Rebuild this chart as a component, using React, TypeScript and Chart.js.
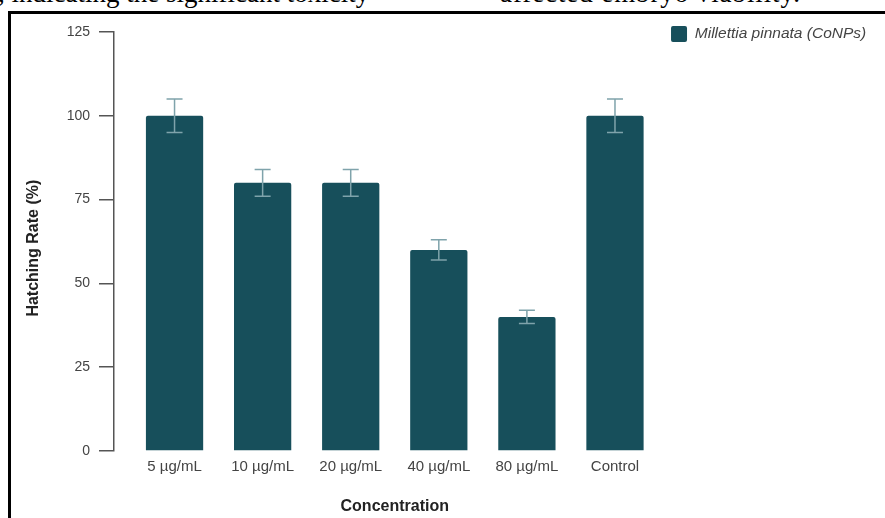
import { useEffect, useRef } from 'react';
import { Chart, registerables } from 'chart.js';

Chart.register(...registerables);

// Hatching rate per treatment, with the spread drawn as error bars
const categories = ['5 µg/mL', '10 µg/mL', '20 µg/mL', '40 µg/mL', '80 µg/mL', 'Control'];
const hatchingRate = [100, 80, 80, 60, 40, 100];
const hatchingError = [5, 4, 4, 3, 2, 5];
const yTicks = [0, 25, 50, 75, 100, 125];
const seriesLabel = 'Millettia pinnata (CoNPs)';

const BAR_COLOR = '#174f5b';
const ERROR_COLOR = '#7fa3ab';
const AXIS_COLOR = '#555555';
const TICK_COLOR = '#444444';
const TITLE_COLOR = '#222222';
const FONT = "'Liberation Sans', Arial, Helvetica, sans-serif";

// Draws mean ± error whiskers on top of each bar
const errorBars = {
  id: 'errorBars',
  afterDatasetsDraw(chart: any) {
    const { ctx } = chart;
    const yScale = chart.scales.y;
    const meta = chart.getDatasetMeta(0);
    const cap = 8;
    ctx.save();
    ctx.strokeStyle = ERROR_COLOR;
    ctx.lineWidth = 1.5;
    meta.data.forEach((bar: any, i: number) => {
      const v = hatchingRate[i];
      const e = hatchingError[i];
      const top = yScale.getPixelForValue(v + e);
      const bottom = yScale.getPixelForValue(v - e);
      ctx.beginPath();
      ctx.moveTo(bar.x, top);
      ctx.lineTo(bar.x, bottom);
      ctx.moveTo(bar.x - cap, top);
      ctx.lineTo(bar.x + cap, top);
      ctx.moveTo(bar.x - cap, bottom);
      ctx.lineTo(bar.x + cap, bottom);
      ctx.stroke();
    });
    ctx.restore();
  },
};

function HatchingChart() {
  const canvasRef = useRef<HTMLCanvasElement | null>(null);

  useEffect(() => {
    if (!canvasRef.current) return;
    Chart.defaults.font.family = FONT;
    const chart = new Chart(canvasRef.current, {
      type: 'bar',
      data: {
        labels: categories,
        datasets: [
          {
            label: seriesLabel,
            data: hatchingRate,
            backgroundColor: BAR_COLOR,
            borderColor: BAR_COLOR,
            borderWidth: 0,
            borderRadius: 2,
            barPercentage: 0.65,
            categoryPercentage: 1,
            xAxisID: 'x',
            yAxisID: 'y',
          },
        ],
      },
      options: {
        responsive: false,
        animation: false,
        layout: { padding: { left: 0, right: 8.8, top: 0, bottom: 0 } },
        plugins: {
          tooltip: { enabled: false },
          legend: {
            position: 'right',
            align: 'start',
            maxWidth: 240,
            labels: {
              boxWidth: 16,
              boxHeight: 16,
              padding: 12,
              color: TICK_COLOR,
              useBorderRadius: true,
              borderRadius: 2,
              font: { size: 15.5, style: 'italic' },
            },
          },
        },
        scales: {
          x: {
            type: 'category',
            offset: true,
            grid: { display: false, drawTicks: false },
            border: { display: false },
            ticks: {
              color: TICK_COLOR,
              font: { size: 15 },
              padding: 7,
              maxRotation: 0,
              autoSkip: false,
            },
            title: {
              display: true,
              text: 'Concentration',
              color: TITLE_COLOR,
              font: { size: 16, weight: 'bold' },
              padding: { top: 0, bottom: 1.4 },
            },
            afterFit(s: any) {
              s.height = 67;
            },
          },
          y: {
            position: 'left',
            weight: 1,
            min: 0,
            max: 125,
            afterBuildTicks(s: any) {
              s.ticks = yTicks.map((value) => ({ value }));
            },
            grid: {
              display: true,
              drawOnChartArea: false,
              drawTicks: true,
              tickLength: 15,
              color: AXIS_COLOR,
              lineWidth: 1.5,
            },
            border: { display: true, color: AXIS_COLOR, width: 1.5 },
            ticks: { color: TICK_COLOR, font: { size: 14 }, padding: 9 },
            title: {
              display: true,
              text: 'Hatching Rate (%)   ',
              color: TITLE_COLOR,
              font: { size: 16, weight: 'bold' },
              padding: { top: 13.4, bottom: 0 },
            },
            afterFit(s: any) {
              s.width = 103;
            },
          },
          // blank spacer between the value axis and the first bar
          gap: {
            type: 'linear',
            axis: 'y',
            position: 'left',
            weight: 0,
            display: true,
            grid: { display: false, drawTicks: false },
            border: { display: false },
            ticks: { display: false },
            afterFit(s: any) {
              s.width = 16.5;
            },
          },
          // blank strip above the plot
          topGap: {
            type: 'linear',
            axis: 'x',
            position: 'top',
            display: true,
            grid: { display: false, drawTicks: false },
            border: { display: false },
            ticks: { display: false },
            afterFit(s: any) {
              s.height = 18;
            },
          },
        },
      } as any,
      plugins: [errorBars],
    });
    return () => chart.destroy();
  }, []);

  return (
    <canvas
      ref={canvasRef}
      width={874}
      height={504}
      style={{ position: 'absolute', left: 11, top: 14, width: 874, height: 504 }}
    />
  );
}

const serifLine = {
  position: 'absolute' as const,
  top: -20,
  fontFamily: "'Liberation Serif', 'Times New Roman', serif",
  fontSize: 27,
  lineHeight: '27px',
  whiteSpace: 'nowrap' as const,
  color: '#000',
};

export default function App() {
  return (
    <div
      style={{
        position: 'fixed',
        left: 0,
        top: 0,
        width: 885,
        height: 518,
        overflow: 'hidden',
        background: '#ffffff',
      }}
    >
      <div style={{ ...serifLine, left: -2 }}>, indicating the significant toxicity</div>
      <div style={{ ...serifLine, left: 500, letterSpacing: '0.9px' }}>affected embryo viability.</div>
      <div
        style={{
          position: 'absolute',
          left: 8,
          top: 11,
          width: 920,
          height: 600,
          border: '3px solid #000',
        }}
      />
      <HatchingChart />
    </div>
  );
}
